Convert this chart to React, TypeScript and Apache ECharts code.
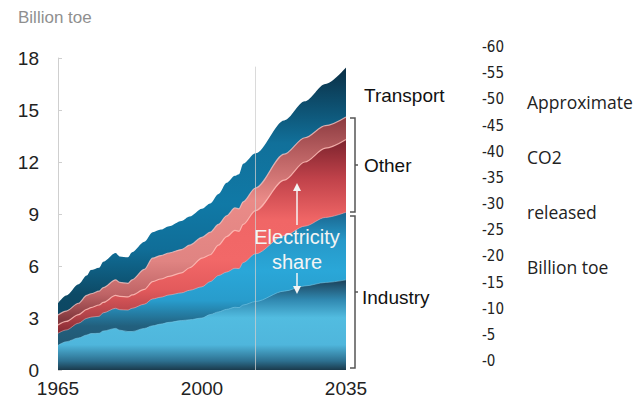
import React, { useEffect, useRef } from "react";
import * as echarts from "echarts";

const years = [1965, 1967, 1970, 1972, 1973, 1975, 1976, 1979, 1980, 1982, 1983, 1986, 1988, 1990, 1992, 1995, 1997, 2000, 2002, 2004, 2006, 2008, 2009, 2010, 2013, 2020, 2025, 2030, 2035];

// Upper boundary of each layer of the stack (Billion toe, cumulative)
const industryNonElecTop = [1.42, 1.63, 1.85, 2.02, 2.1, 2.12, 2.25, 2.4, 2.3, 2.22, 2.22, 2.4, 2.55, 2.65, 2.75, 2.85, 2.9, 3.0, 3.2, 3.35, 3.5, 3.62, 3.6, 3.75, 3.95, 4.55, 4.85, 5.05, 5.2];
const industryTop = [2.12, 2.31, 2.7, 2.98, 3.05, 3.1, 3.3, 3.56, 3.48, 3.46, 3.56, 3.8, 4.1, 4.2, 4.33, 4.45, 4.6, 4.8, 5.1, 5.45, 5.65, 5.87, 5.85, 6.2, 6.7, 7.75, 8.3, 8.8, 9.1];
const otherElecTop = [2.6, 2.8, 3.2, 3.5, 3.6, 3.75, 3.9, 4.3, 4.25, 4.22, 4.33, 4.65, 5.1, 5.25, 5.4, 5.6, 5.9, 6.45, 6.65, 7.2, 7.7, 8.05, 8.0, 8.4, 9.2, 10.95, 12.0, 12.8, 13.3];
const otherTop = [3.17, 3.4, 3.85, 4.3, 4.4, 4.55, 4.75, 5.2, 5.05, 5.0, 5.2, 5.8, 6.45, 6.6, 6.75, 6.95, 7.2, 7.65, 7.95, 8.4, 8.9, 9.35, 9.3, 9.7, 10.5, 12.45, 13.4, 14.1, 14.6];
const transportTop = [3.85, 4.3, 4.95, 5.45, 5.77, 5.9, 6.25, 6.75, 6.55, 6.5, 6.8, 7.4, 7.95, 8.1, 8.3, 8.6, 8.85, 9.3, 9.6, 10.15, 10.8, 11.2, 11.3, 11.9, 12.5, 14.4, 15.5, 16.5, 17.45];

const xTickLabels = [1965, 2000, 2035];
const yTicks = { min: 0, max: 18, interval: 3 };
const co2Ticks = { min: 0, max: 60, interval: 5 };
const forecastStartYear = 2013;

const sideLabels = ["Transport", "Other", "Industry"];
const rightNote = ["Approximate", "CO2", "released", "Billion toe"];

const grad = (stops: [number, string][]) => ({
  type: "linear",
  x: 0,
  y: 0,
  x2: 0,
  y2: 1,
  colorStops: stops.map(([offset, color]) => ({ offset, color })),
});

const pts = (vals: number[]) => years.map((y, i) => [y, vals[i]]);

export default function App() {
  const ref = useRef<HTMLDivElement>(null);
  useEffect(() => {
    document.body.style.margin = "0";
    const chart = echarts.init(ref.current!, null, { renderer: "svg" });
    const font = "'Liberation Sans', Arial, sans-serif";
    const noteFont = "'Open Sans', 'Noto Sans', sans-serif";
    const narrow = "'Liberation Sans Narrow', 'DejaVu Sans Condensed', 'Liberation Sans', sans-serif";
    const base = {
      type: "line",
      smooth: 0.3,
      smoothMonotone: "x",
      showSymbol: false,
      symbol: "none",
      silent: true,
      xAxisIndex: 0,
      yAxisIndex: 0,
    };
    chart.setOption({
      animation: false,
      grid: [
        { left: 58, right: 296, top: 58, bottom: 32 },
        { left: 480, width: 1, top: 47, bottom: 41 },
      ],
      xAxis: [
        {
          type: "value",
          gridIndex: 0,
          min: 1965,
          max: 2035,
          axisLine: { show: false },
          axisTick: { show: false },
          splitLine: { show: false },
          axisLabel: {
            customValues: xTickLabels,
            formatter: (v: number) => String(v),
            margin: 9,
            fontSize: 19,
            color: "#222",
            fontFamily: font,
          },
        },
        { type: "value", gridIndex: 1, min: 0, max: 1, show: false },
      ],
      yAxis: [
        {
          type: "value",
          gridIndex: 0,
          min: yTicks.min,
          max: yTicks.max,
          interval: yTicks.interval,
          axisLine: { show: true, lineStyle: { color: "#cfcfcf", width: 1 } },
          axisTick: { show: true, inside: true, length: 4, lineStyle: { color: "#cfcfcf" } },
          splitLine: { show: false },
          axisLabel: { margin: 19, fontSize: 19, color: "#222", fontFamily: font },
        },
        {
          type: "value",
          gridIndex: 1,
          position: "left",
          min: co2Ticks.min,
          max: co2Ticks.max,
          interval: co2Ticks.interval,
          axisLine: { show: false },
          axisTick: { show: false },
          splitLine: { show: false },
          axisLabel: {
            inside: true,
            margin: 2,
            fontSize: 15,
            color: "#222",
            fontFamily: narrow,
            formatter: (v: number) => "-" + v,
          },
        },
      ],
      series: [
        {
          ...base,
          name: "Transport",
          z: 2,
          data: pts(transportTop),
          lineStyle: { width: 0 },
          areaStyle: {
            opacity: 1,
            color: grad([[0, "#0a2f45"], [0.25, "#11709a"], [0.45, "#1079a6"], [0.6, "#106e98"], [0.75, "#0d4a66"], [1, "#0c3f57"]]),
          },
        },
        {
          ...base,
          name: "Other non-electric",
          z: 3,
          data: pts(otherTop),
          lineStyle: { width: 1.2, color: "rgba(245,195,192,0.8)" },
          areaStyle: {
            opacity: 1,
            color: grad([[0, "#8c3a40"], [0.13, "#b45c5e"], [0.33, "#ea8b88"], [0.57, "#e08482"], [0.7, "#bf6466"], [0.8, "#82383e"], [1, "#82383e"]]),
          },
        },
        {
          ...base,
          name: "Other electricity",
          z: 4,
          data: pts(otherElecTop),
          lineStyle: { width: 1.2, color: "rgba(255,190,185,0.85)" },
          areaStyle: {
            opacity: 1,
            color: grad([[0, "#7c232d"], [0.17, "#c0424a"], [0.35, "#f06666"], [0.52, "#f26868"], [0.65, "#e35a5c"], [0.76, "#b4444a"], [0.83, "#8a2c34"], [1, "#8a2c34"]]),
          },
        },
        {
          ...base,
          name: "Industry electricity",
          z: 5,
          data: pts(industryTop),
          lineStyle: { width: 1, color: "rgba(255,190,190,0.5)" },
          areaStyle: {
            opacity: 1,
            color: grad([[0, "#1a658e"], [0.18, "#2699c9"], [0.37, "#2aa7d8"], [0.56, "#289ccc"], [0.72, "#22607e"], [1, "#214c63"]]),
          },
        },
        {
          ...base,
          name: "Industry non-electric",
          z: 6,
          data: pts(industryNonElecTop),
          lineStyle: { width: 1, color: "rgba(130,205,235,0.55)" },
          areaStyle: {
            opacity: 1,
            color: grad([[0, "#1b4058"], [0.22, "#3088b0"], [0.42, "#52bce0"], [0.72, "#4fb6dc"], [0.9, "#2d7090"], [1, "#1a3a4c"]]),
          },
          markLine: {
            silent: true,
            symbol: "none",
            z: 10,
            label: { show: false },
            lineStyle: { color: "rgba(205,205,205,0.75)", width: 1, type: "solid" },
            data: [[{ coord: [forecastStartYear, 0] }, { coord: [forecastStartYear, 17.5] }]],
          },
        },
      ],
      graphic: [
        {
          type: "text",
          left: 18,
          top: 9,
          style: { text: "Billion toe", fontSize: 17, fill: "#8f8f8f", fontFamily: font },
        },
        {
          type: "text",
          x: 364,
          y: 95,
          style: { text: sideLabels[0], fontSize: 19, fill: "#111", fontFamily: font, verticalAlign: "middle" },
        },
        {
          type: "text",
          x: 364,
          y: 165,
          style: { text: sideLabels[1], fontSize: 19, fill: "#111", fontFamily: font, verticalAlign: "middle" },
        },
        {
          type: "text",
          x: 362,
          y: 297,
          style: { text: sideLabels[2], fontSize: 19, fill: "#111", fontFamily: font, verticalAlign: "middle" },
        },
        {
          type: "polyline",
          shape: { points: [[350, 118], [355, 118], [355, 212], [350, 212]] },
          style: { stroke: "#555", lineWidth: 1.5, fill: null },
        },
        {
          type: "line",
          shape: { x1: 355, y1: 165, x2: 358, y2: 165 },
          style: { stroke: "#555", lineWidth: 1.5 },
        },
        {
          type: "polyline",
          shape: { points: [[350, 216], [355, 216], [355, 368], [350, 368]] },
          style: { stroke: "#555", lineWidth: 1.5, fill: null },
        },
        {
          type: "line",
          shape: { x1: 355, y1: 292, x2: 358, y2: 292 },
          style: { stroke: "#555", lineWidth: 1.5 },
        },
        {
          type: "text",
          x: 297,
          y: 237,
          z: 100,
          style: { text: "Electricity", fontSize: 20, fill: "#f4f4f4", fontFamily: font, align: "center", verticalAlign: "middle" },
        },
        {
          type: "text",
          x: 297,
          y: 262,
          z: 100,
          style: { text: "share", fontSize: 20, fill: "#f4f4f4", fontFamily: font, align: "center", verticalAlign: "middle" },
        },
        {
          type: "line",
          z: 100,
          shape: { x1: 297, y1: 225, x2: 297, y2: 189 },
          style: { stroke: "#f4f4f4", lineWidth: 1.5 },
        },
        {
          type: "polygon",
          z: 100,
          shape: { points: [[293, 191], [301, 191], [297, 183]] },
          style: { fill: "#f4f4f4" },
        },
        {
          type: "line",
          z: 100,
          shape: { x1: 297, y1: 273, x2: 297, y2: 288 },
          style: { stroke: "#f4f4f4", lineWidth: 1.5 },
        },
        {
          type: "polygon",
          z: 100,
          shape: { points: [[293, 286], [301, 286], [297, 294]] },
          style: { fill: "#f4f4f4" },
        },
        ...rightNote.map((t, i) => ({
          type: "text",
          x: 527,
          y: 102 + i * 55,
          style: { text: t, fontSize: 17.5, fill: "#222", fontFamily: noteFont, verticalAlign: "middle" },
        })),
      ],
    });
    return () => chart.dispose();
  }, []);
  return <div ref={ref} style={{ position: "absolute", left: 0, top: 0, width: 642, height: 402 }} />;
}
